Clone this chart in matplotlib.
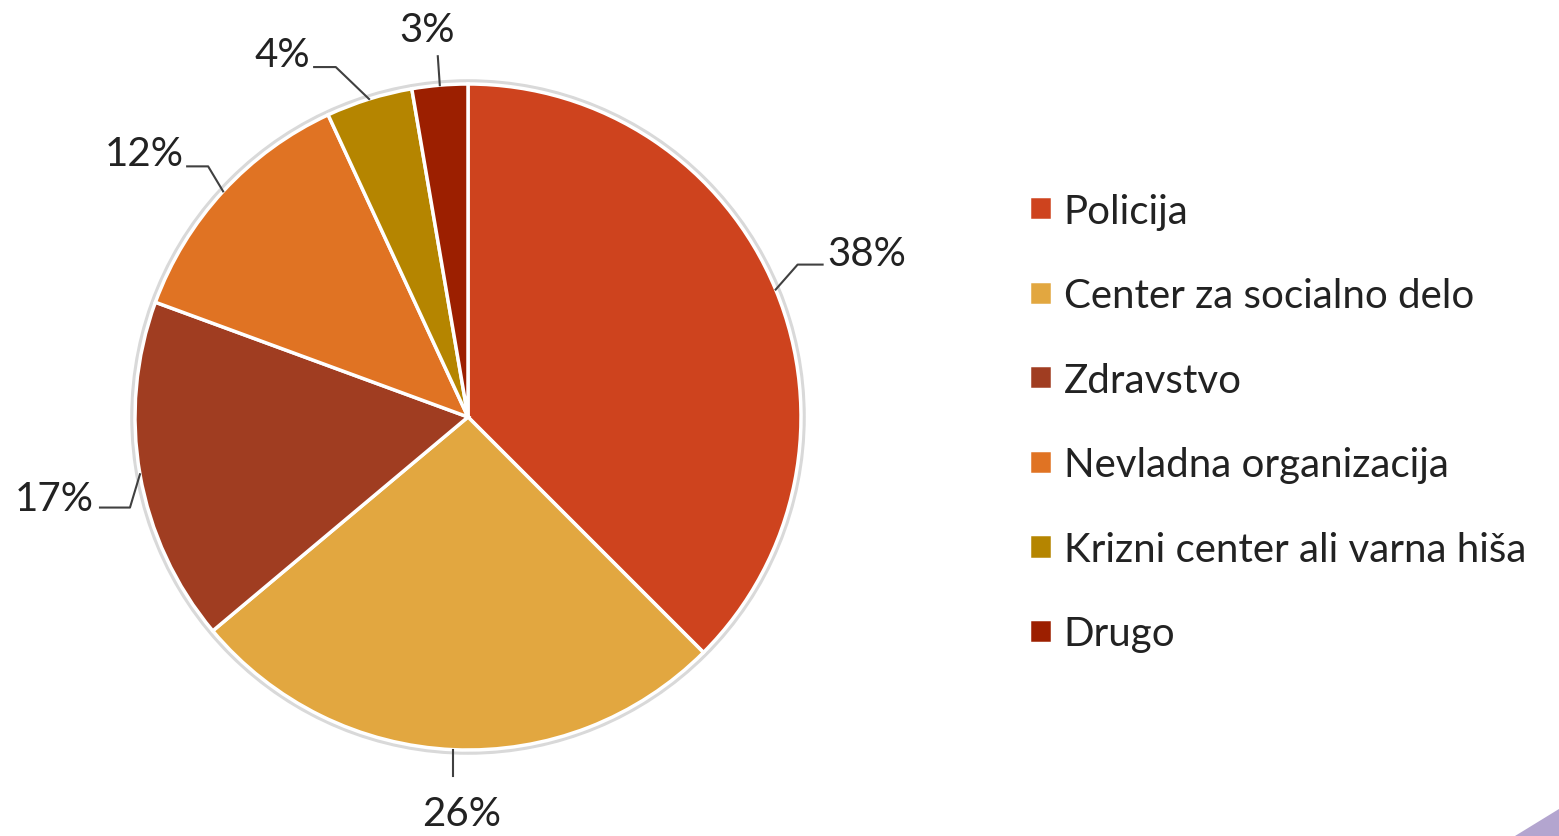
import numpy as np
import matplotlib.pyplot as plt
from matplotlib.patches import Polygon, Circle

plt.rcParams['font.family'] = ['Lato', 'DejaVu Sans']

# Data
categories = ['Policija', 'Center za socialno delo', 'Zdravstvo',
              'Nevladna organizacija', 'Krizni center ali varna hiša', 'Drugo']
shares = [37.5, 26.4, 16.7, 12.5, 4.2, 2.7]
pct_labels = ['38%', '26%', '17%', '12%', '4%', '3%']
colors = ['#CE431E', '#E2A740', '#A03D21', '#E07323', '#B58500', '#9C1F00']

# leader layout per slice: elbow offset from the edge point, horizontal run,
# text position (data units, pie radius = 1)
leader = [
    dict(elbow=(0.066, 0.075), run=0.075, text=(1.08, 0.49), ha='left'),
    dict(elbow=(0.0, -0.08), run=0.0, text=(-0.02, -1.19), ha='center'),
    dict(elbow=(-0.03, -0.10), run=-0.09, text=(-1.125, -0.245), ha='right'),
    dict(elbow=(-0.045, 0.075), run=-0.063, text=(-0.855, 0.79), ha='right'),
    dict(elbow=(-0.10, 0.096), run=-0.065, text=(-0.475, 1.09), ha='right'),
    dict(elbow=(-0.006, 0.087), run=0.0, text=(-0.123, 1.165), ha='center'),
]

W, H = 1559, 837
cx, cy, R = 468, 418, 333
fig = plt.figure(figsize=(W / 100, H / 100), dpi=100)
ax = fig.add_axes([0, 0, 1, 1])

# soft rim behind the pie
ax.add_patch(Circle((0, 0), 1.006, facecolor='none', edgecolor='#d9d9d9', lw=4, zorder=0))

wedges, _ = ax.pie(shares, colors=colors, startangle=90, counterclock=False,
                   radius=1.0, center=(0, 0), frame=True,
                   wedgeprops=dict(edgecolor='white', linewidth=2.5))
ax.set_xlim(-cx / R, (W - cx) / R)
ax.set_ylim(-(H - cy) / R, cy / R)
ax.set_aspect('auto')
ax.axis('off')

for w, lab, ld in zip(wedges, pct_labels, leader):
    ang = np.deg2rad((w.theta1 + w.theta2) / 2)
    x0, y0 = np.cos(ang), np.sin(ang)
    x1, y1 = x0 + ld['elbow'][0], y0 + ld['elbow'][1]
    x2 = x1 + ld['run']
    ax.plot([x0, x1, x2], [y0, y1, y1], color='#404040', lw=1.5, zorder=5)
    ax.text(ld['text'][0], ld['text'][1], lab, ha=ld['ha'], va='center',
            fontsize=29, color='#222222')

leg = ax.legend(wedges, categories, loc='upper left', bbox_to_anchor=(0.650, 0.788),
                frameon=False, fontsize=29, handlelength=0.55, handleheight=0.55,
                handletextpad=0.3, labelspacing=1.18, borderaxespad=0)
for t in leg.get_texts():
    t.set_color('#222222')

# decorative corner
fig.patches.append(Polygon([[1515 / W, 0], [1, 27 / H], [1, 0]], closed=True,
                           transform=fig.transFigure, facecolor='#B3A5CF',
                           edgecolor='none'))

plt.savefig('out.png', dpi=100)
